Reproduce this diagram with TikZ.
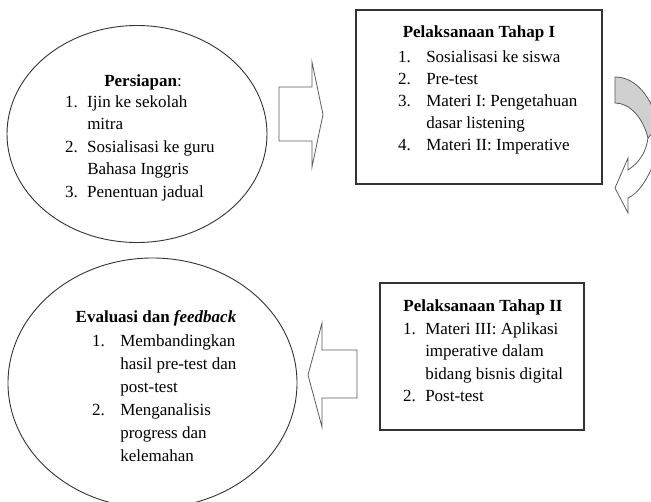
\documentclass[tikz,border=0pt]{standalone}
\usepackage{fontspec}
\setmainfont{Liberation Serif}
\usetikzlibrary{shapes.geometric}

\definecolor{linegray}{HTML}{333333}
\definecolor{foldgray}{HTML}{D0D0D0}

\tikzset{
    oval/.style={draw=linegray, line width=0.9pt, ellipse, inner sep=0pt},
    panel/.style={draw=linegray, line width=1.1pt, rectangle, inner sep=0pt},
    blockarrow/.style={draw=linegray!80, line width=0.8pt, fill=white, line join=miter},
    title/.style={font=\bfseries\fontsize{17}{22.5}\selectfont, inner sep=0pt, anchor=base},
    items/.style={font=\fontsize{17}{22.5}\selectfont, inner sep=0pt, anchor=base west},
}

\begin{document}
\begin{tikzpicture}[x=1pt,y=-1pt]
    \useasboundingbox (0,0) rectangle (651,501);
    % persiapan
    \node[oval, minimum width=260, minimum height=217] (prep) at (137,134) {};
    \node[title] (prepTitle) at (143,86) {Persiapan\mdseries:};
    \node[items] (prepList) at (65,107) {\begin{tabular}[t]{@{}l@{\hspace{9.3pt}}l@{}}
        1. & Ijin ke sekolah\\
           & mitra\\
        2. & Sosialisasi ke guru\\
           & Bahasa Inggris\\
        3. & Penentuan jadual
    \end{tabular}};
    % arrow to tahap I
    \filldraw[blockarrow] (279,87) -- (312,87) -- (312,62) -- (323,114.5) -- (312,167) -- (312,141) -- (279,141) -- cycle;
    % tahap I
    \node[panel, minimum width=246, minimum height=174] (stageOne) at (479,97) {};
    \node[title] (stageOneTitle) at (479,37) {Pelaksanaan Tahap I};
    \node[items, font=\fontsize{17}{22}\selectfont] (stageOneList) at (398,62) {\begin{tabular}[t]{@{}l@{\hspace{15.3pt}}l@{}}
        1. & Sosialisasi ke siswa\\
        2. & Pre-test\\
        3. & Materi I: Pengetahuan\\
           & dasar listening\\
        4. & Materi II: Imperative
    \end{tabular}};
    % curved arrow, back side
    \filldraw[foldgray, draw=linegray!80, line width=0.8pt] (615,77) .. controls (635,77) and (652,95) .. (660,130)
        -- (648,138) .. controls (643,118) and (630,103) .. (615,103) -- cycle;
    % curved arrow, front side
    \filldraw[blockarrow] (628,170) .. controls (640,162) and (646,152) .. (648,138) -- (664,120)
        .. controls (660,155) and (646,190) .. (628,198) -- (628,213) -- (615,188) -- (628,158) -- cycle;
    % tahap II
    \node[panel, minimum width=204, minimum height=147] (stageTwo) at (482,356.5) {};
    \node[title] (stageTwoTitle) at (483,311) {Pelaksanaan Tahap II};
    \node[items] (stageTwoList) at (403,334) {\begin{tabular}[t]{@{}l@{\hspace{9.3pt}}l@{}}
        1. & Materi III: Aplikasi\\
           & imperative dalam\\
           & bidang bisnis digital\\
        2. & Post-test
    \end{tabular}};
    % arrow to evaluasi
    \filldraw[blockarrow] (357,350) -- (322,350) -- (322,323) -- (308,375) -- (322,427) -- (322,398) -- (357,398) -- cycle;
    % evaluasi
    \node[oval, minimum width=289, minimum height=250] (evalu) at (152.5,383) {};
    \node[title] (evaluTitle) at (156,322) {Evaluasi dan \textit{feedback}};
    \node[items, font=\fontsize{17}{23}\selectfont] (evaluList) at (92,346) {\begin{tabular}[t]{@{}l@{\hspace{15.3pt}}l@{}}
        1. & Membandingkan\\
           & hasil pre-test dan\\
           & post-test\\
        2. & Menganalisis\\
           & progress dan\\
           & kelemahan
    \end{tabular}};
\end{tikzpicture}
\end{document}
